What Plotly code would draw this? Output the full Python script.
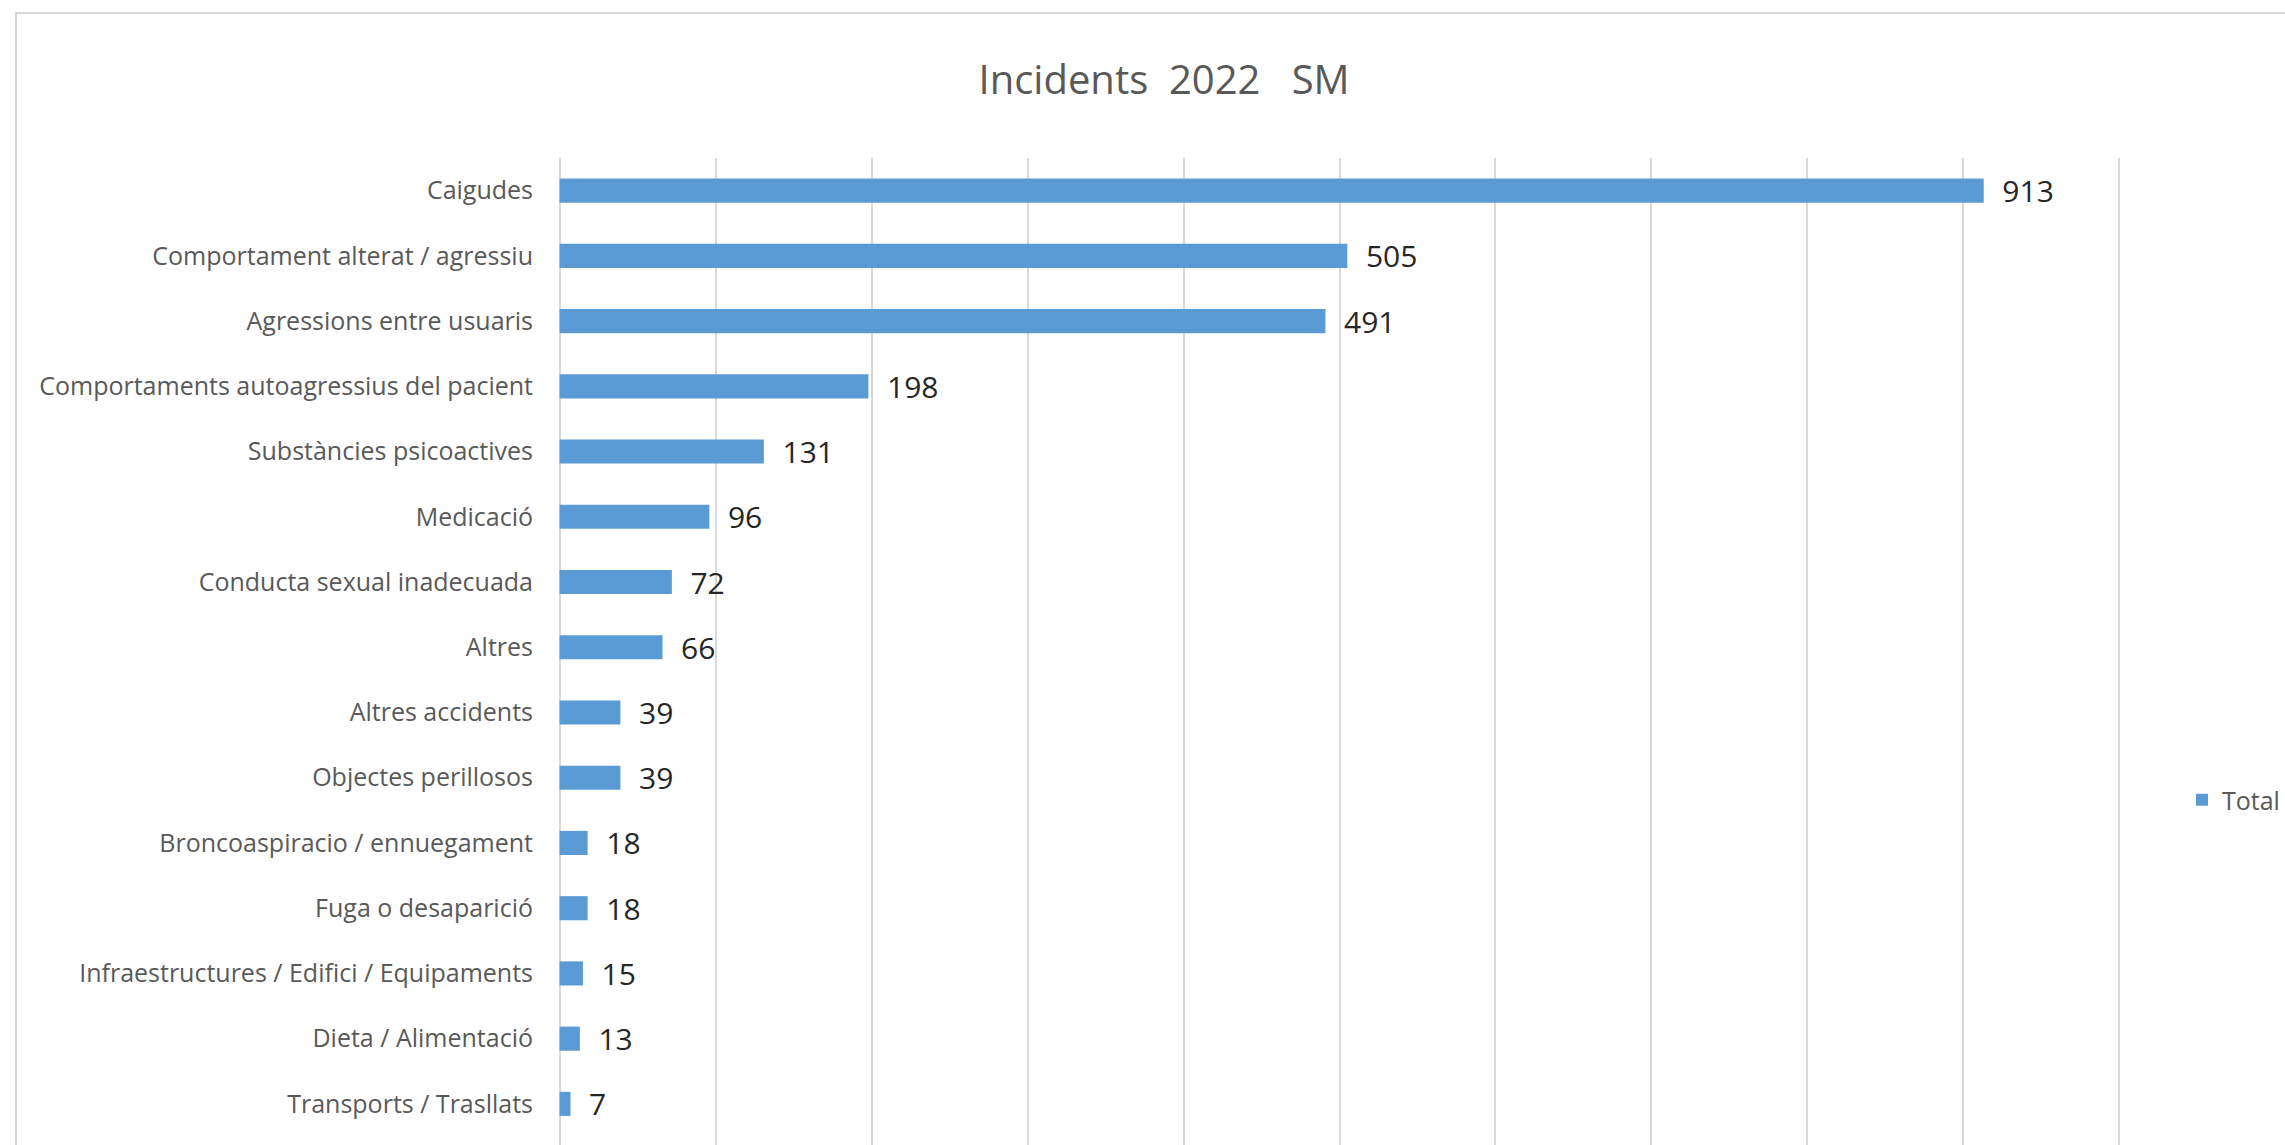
import plotly.graph_objects as go

categories = [
    "Caigudes",
    "Comportament alterat / agressiu",
    "Agressions entre usuaris",
    "Comportaments autoagressius del pacient",
    "Substàncies psicoactives",
    "Medicació",
    "Conducta sexual inadecuada",
    "Altres",
    "Altres accidents",
    "Objectes perillosos",
    "Broncoaspiracio / ennuegament",
    "Fuga o desaparició",
    "Infraestructures / Edifici / Equipaments",
    "Dieta / Alimentació",
    "Transports / Trasllats",
]
totals = [913, 505, 491, 198, 131, 96, 72, 66, 39, 39, 18, 18, 15, 13, 7]

W, H = 2285, 1145
L, R, T, B = 558, 164, 158, 0
pw, ph = W - L - R, H - T - B

def px_x(p):
    return (p - L) / pw

def px_y(p):
    return (H - B - p) / ph

FONT = "Open Sans, Noto Sans, sans-serif"

fig = go.Figure()
fig.add_trace(go.Bar(
    y=categories,
    x=totals,
    orientation="h",
    name="Total",
    marker=dict(color="#5B9BD5", line=dict(width=0)),
    width=0.37,
    text=[f"  {v}" for v in totals],
    textposition="outside",
    constraintext="none",
    textfont=dict(family=FONT, size=30, color="#262626"),
    cliponaxis=False,
    showlegend=True,
))

fig.update_layout(
    width=W,
    height=H,
    margin=dict(l=L, r=R, t=T, b=B, autoexpand=False),
    paper_bgcolor="white",
    plot_bgcolor="white",
    title=dict(
        text="Incidents  2022   SM",
        x=px_x(1164), xref="paper", xanchor="center",
        y=1 - 80 / H, yanchor="middle",
        font=dict(family=FONT, size=40, color="#595959"),
    ),
    xaxis=dict(
        range=[-1, 1001],
        tick0=0,
        dtick=100,
        showgrid=True,
        gridcolor="#D9D9D9",
        gridwidth=2,
        zeroline=False,
        showline=False,
        showticklabels=False,
        fixedrange=True,
    ),
    yaxis=dict(
        autorange=False,
        range=[14.63, -0.5],
        showgrid=False,
        zeroline=False,
        showline=False,
        ticks="",
        ticklabelstandoff=24,
        tickfont=dict(family=FONT, size=25, color="#595959"),
    ),
    legend=dict(
        x=px_x(2182), xanchor="left",
        y=px_y(800), yanchor="middle",
        font=dict(family=FONT, size=25, color="#595959"),
        bgcolor="rgba(0,0,0,0)",
        itemwidth=30,
    ),
    shapes=[dict(
        type="rect", xref="paper", yref="paper",
        x0=px_x(16), x1=px_x(2400), y0=px_y(1300), y1=px_y(13),
        line=dict(color="#D9D9D9", width=2), fillcolor="rgba(0,0,0,0)",
        layer="below",
    )],
)

fig.write_html(
    "out.html",
    config={"displayModeBar": False},
    post_script="document.body.style.margin='0';document.body.style.overflow='hidden';",
)
